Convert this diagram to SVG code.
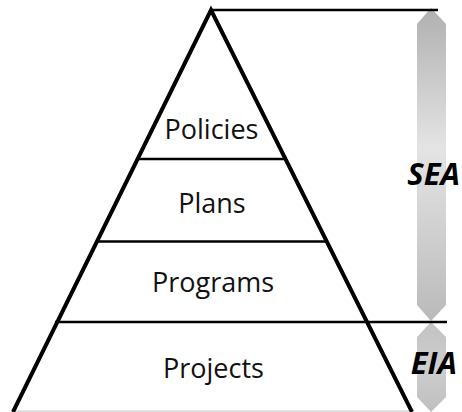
<svg xmlns="http://www.w3.org/2000/svg" width="462" height="412" viewBox="0 0 462 412">
<defs>
<linearGradient id="gSEA" x1="0" y1="0" x2="0" y2="1">
<stop offset="0" stop-color="#b0b0b0"/>
<stop offset="0.45" stop-color="#e4e4e4"/>
<stop offset="1" stop-color="#bababa"/>
</linearGradient>
<linearGradient id="gEIA" x1="0" y1="0" x2="0" y2="1">
<stop offset="0" stop-color="#c2c2c2"/>
<stop offset="0.5" stop-color="#cecece"/>
<stop offset="1" stop-color="#bfbfbf"/>
</linearGradient>
<style>
.lbl{font-family:"Open Sans","Noto Sans","Liberation Sans",sans-serif;font-size:27px;fill:#111;text-anchor:middle}
.big{font-family:"Open Sans","Noto Sans","Liberation Sans",sans-serif;font-size:31px;font-weight:bold;font-style:italic;fill:#000;text-anchor:end}
.edge{stroke:#000;stroke-width:4;fill:none;stroke-linecap:butt}
.sep{stroke:#000;stroke-width:2.5;fill:none}
</style>
</defs>
<g id="arrows">
<polygon id="sea-arrow" points="431,8 446,24 446,305 431,321 417,305 417,24" fill="url(#gSEA)"/>
<polygon id="eia-arrow" points="431,322 446,337 446,397 431,412 417,397 417,337" fill="url(#gEIA)"/>
</g>
<g id="connectors">
<line class="sep" x1="211" y1="10" x2="438" y2="10"/>
<line class="sep" x1="138" y1="159" x2="285" y2="159"/>
<line class="sep" x1="97" y1="241.5" x2="326" y2="241.5"/>
<line class="sep" x1="55" y1="322" x2="447" y2="322"/>
<line x1="13" y1="411" x2="411" y2="411" stroke="#d9d9d9" stroke-width="1.5"/>
<polyline class="edge" points="13,412 211,10 412,412"/>
</g>
<g id="policies"><text class="lbl" x="211.5" y="139">Policies</text></g>
<g id="plans"><text class="lbl" x="212" y="213">Plans</text></g>
<g id="programs"><text class="lbl" x="213" y="292">Programs</text></g>
<g id="projects"><text class="lbl" x="213.5" y="378">Projects</text></g>
<g id="sea"><text class="big" x="460" y="185">SEA</text></g>
<g id="eia"><text class="big" x="457" y="374">EIA</text></g>
</svg>
